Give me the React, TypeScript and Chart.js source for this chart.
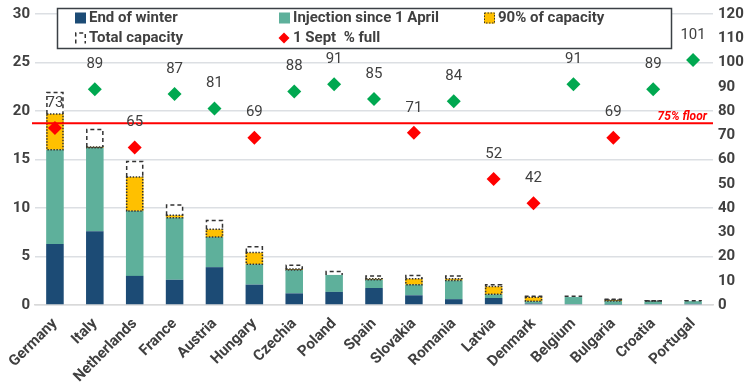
import { useEffect, useRef } from "react";
import { Chart, registerables } from "chart.js";

Chart.register(...registerables);

const categories = [
  "Germany", "Italy", "Netherlands", "France", "Austria", "Hungary", "Czechia", "Poland",
  "Spain", "Slovakia", "Romania", "Latvia", "Denmark", "Belgium", "Bulgaria", "Croatia", "Portugal",
];
// bcm segments of each stacked bar
const endOfWinter = [6.3, 7.6, 3.0, 2.6, 3.9, 2.1, 1.2, 1.35, 1.75, 1.0, 0.6, 0.72, 0.15, 0.1, 0.05, 0.1, 0.12];
const injectionSinceApril = [9.7, 8.6, 6.7, 6.4, 3.1, 2.1, 2.4, 1.75, 0.85, 1.1, 1.92, 0.38, 0.23, 0.72, 0.35, 0.3, 0.28];
const upTo90Pct = [3.7, 0.1, 3.5, 0.25, 0.8, 1.2, 0.1, 0, 0.1, 0.6, 0.18, 0.8, 0.43, 0, 0.12, 0.01, 0];
const upToTotalCapacity = [2.2, 1.8, 1.6, 1.05, 0.9, 0.6, 0.4, 0.35, 0.3, 0.35, 0.3, 0.2, 0.09, 0.08, 0.06, 0.04, 0.03];
const sept1PctFull = [73, 89, 65, 87, 81, 69, 88, 91, 85, 71, 84, 52, 42, 91, 69, 89, 101];
const floorPct = 75;
const floorLabel = "75% floor";
const legendLabels = ["End of winter", "Injection since 1 April", "90% of capacity", "Total capacity", "1 Sept  % full"];

const C_BLUE = "#1c4b75";
const C_TEAL = "#5eb09b";
const C_YELLOW = "#ffc000";
const C_RED = "#ff0000";
const C_GREEN = "#00a850";
const C_TEXT = "#404040";
const FONT = "Roboto";

function drawDiamond(ctx: CanvasRenderingContext2D, x: number, y: number, r: number, color: string) {
  ctx.save();
  ctx.fillStyle = color;
  ctx.beginPath();
  ctx.moveTo(x, y - r);
  ctx.lineTo(x + r, y);
  ctx.lineTo(x, y + r);
  ctx.lineTo(x - r, y);
  ctx.closePath();
  ctx.fill();
  ctx.restore();
}

const overlayPlugin = {
  id: "overlay",
  afterDatasetDraw(chart: any, args: any) {
    if (args.index !== 0) return;
    const ctx: CanvasRenderingContext2D = chart.ctx;
    // dotted border for 90% segment
    const m2 = chart.getDatasetMeta(2);
    ctx.save();
    ctx.strokeStyle = "#333";
    ctx.lineWidth = 1.5;
    ctx.setLineDash([1.5, 1.5]);
    m2.data.forEach((el: any, i: number) => {
      if (!upTo90Pct[i]) return;
      const l = el.x - el.width / 2, r = el.x + el.width / 2;
      ctx.strokeRect(l + 0.75, el.y, r - l - 1.5, el.base - el.y);
    });
    ctx.restore();
    // dashed border for total capacity segment
    const m3 = chart.getDatasetMeta(3);
    ctx.save();
    ctx.strokeStyle = "#333";
    ctx.lineWidth = 1.5;
    ctx.setLineDash([4, 3]);
    m3.data.forEach((el: any, i: number) => {
      if (!upToTotalCapacity[i]) return;
      const l = el.x - el.width / 2 + 0.75, r = el.x + el.width / 2 - 0.75;
      ctx.beginPath();
      ctx.moveTo(l, el.base);
      ctx.lineTo(l, el.y);
      ctx.lineTo(r, el.y);
      ctx.lineTo(r, el.base);
      ctx.stroke();
    });
    ctx.restore();
    // 75% floor line
    const y = chart.scales.y1.getPixelForValue(floorPct);
    const { left, right } = chart.chartArea;
    ctx.save();
    ctx.strokeStyle = C_RED;
    ctx.lineWidth = 2;
    ctx.beginPath();
    ctx.moveTo(left - 3, y);
    ctx.lineTo(right, y);
    ctx.stroke();
    ctx.fillStyle = C_RED;
    ctx.font = `italic bold 12px ${FONT}`;
    ctx.textAlign = "right";
    ctx.textBaseline = "alphabetic";
    ctx.fillText(floorLabel, right - 6, y - 3);
    ctx.restore();
  },
  afterDatasetsDraw(chart: any) {
    const ctx: CanvasRenderingContext2D = chart.ctx;
    const m4 = chart.getDatasetMeta(4);
    ctx.save();
    ctx.fillStyle = C_TEXT;
    ctx.font = `15px ${FONT}`;
    ctx.textAlign = "center";
    ctx.textBaseline = "middle";
    m4.data.forEach((pt: any, i: number) => {
      ctx.fillText(String(sept1PctFull[i]), pt.x, pt.y - 25);
    });
    ctx.restore();
  },
  afterDraw(chart: any) {
    const ctx: CanvasRenderingContext2D = chart.ctx;
    ctx.save();
    ctx.fillStyle = "#fff";
    ctx.fillRect(57, 8, 615, 41);
    ctx.strokeStyle = "#3b4045";
    ctx.lineWidth = 1.5;
    ctx.strokeRect(57.5, 8.5, 614, 40);
    const r1 = 18, r2 = 38;
    const cols = [75, 279, 484];
    ctx.font = `bold 15px ${FONT}`;
    ctx.fillStyle = C_TEXT;
    ctx.textBaseline = "middle";
    ctx.textAlign = "left";
    // row 1
    ctx.fillStyle = C_BLUE;
    ctx.fillRect(cols[0], r1 - 5.5, 11, 11);
    ctx.fillStyle = C_TEAL;
    ctx.fillRect(cols[1], r1 - 5.5, 11, 11);
    ctx.fillStyle = C_YELLOW;
    ctx.fillRect(cols[2], r1 - 5.5, 11, 11);
    ctx.strokeStyle = "#333";
    ctx.lineWidth = 1;
    ctx.setLineDash([1.5, 1.5]);
    ctx.strokeRect(cols[2] + 0.5, r1 - 5, 10, 10);
    ctx.setLineDash([4, 3]);
    ctx.lineWidth = 1.5;
    ctx.beginPath();
    ctx.moveTo(cols[0] + 0.75, r2 + 5.5);
    ctx.lineTo(cols[0] + 0.75, r2 - 5);
    ctx.lineTo(cols[0] + 10.25, r2 - 5);
    ctx.lineTo(cols[0] + 10.25, r2 + 5.5);
    ctx.stroke();
    ctx.setLineDash([]);
    drawDiamond(ctx, cols[1] + 5, r2, 5.5, C_RED);
    ctx.fillStyle = C_TEXT;
    ctx.fillText(legendLabels[0], cols[0] + 14, r1);
    ctx.fillText(legendLabels[1], cols[1] + 14, r1);
    ctx.fillText(legendLabels[2], cols[2] + 14, r1);
    ctx.fillText(legendLabels[3], cols[0] + 14, r2);
    ctx.fillText(legendLabels[4], cols[1] + 14, r2);
    ctx.restore();
  },
};

export default function App() {
  const ref = useRef<HTMLCanvasElement | null>(null);
  useEffect(() => {
    document.body.style.margin = "0";
    const canvas = ref.current!;
    const bar = (label: string, data: number[], color: string) => ({
      type: "bar" as const,
      label,
      data,
      backgroundColor: color,
      borderWidth: 0,
      order: 1,
      yAxisID: "y",
      stack: "s",
      categoryPercentage: 1,
      barPercentage: 0.44,
    });
    const chart = new Chart(canvas, {
      type: "bar",
      data: {
        labels: categories,
        datasets: [
          bar(legendLabels[0], endOfWinter, C_BLUE),
          bar(legendLabels[1], injectionSinceApril, C_TEAL),
          bar(legendLabels[2], upTo90Pct, C_YELLOW),
          bar(legendLabels[3], upToTotalCapacity, "#ffffff"),
          {
            type: "line" as const,
            label: legendLabels[4],
            data: sept1PctFull,
            yAxisID: "y1",
            showLine: false,
            order: 0,
            pointStyle: "rectRot",
            pointRadius: 7,
            pointHoverRadius: 7,
            pointBorderWidth: 0,
            pointBackgroundColor: sept1PctFull.map((v) => (v >= floorPct ? C_GREEN : C_RED)),
            pointBorderColor: sept1PctFull.map((v) => (v >= floorPct ? C_GREEN : C_RED)),
          } as any,
        ],
      },
      options: {
        responsive: false,
        animation: false,
        layout: { padding: { top: 1, left: 0, right: 0, bottom: 0 } },
        plugins: { legend: { display: false }, tooltip: { enabled: false } },
        scales: {
          x: {
            stacked: true,
            grid: { display: false },
            border: { display: true, color: "#d9d9d9", width: 1.5 },
            ticks: {
              autoSkip: false,
              maxRotation: 45,
              minRotation: 45,
              color: C_TEXT,
              font: { family: FONT, size: 15, weight: "bold" },
              padding: 2,
            },
            afterFit(scale: any) {
              scale.height = 87;
            },
          },
          y: {
            stacked: true,
            position: "left",
            min: 0,
            max: 30,
            ticks: {
              stepSize: 5,
              color: C_TEXT,
              font: { family: FONT, size: 15, weight: "bold" },
              padding: 5,
            },
            grid: { color: "#dcdfe3", lineWidth: 1.5, drawTicks: false },
            border: { display: false },
            afterFit(scale: any) {
              scale.width = 35;
            },
          },
          y1: {
            position: "right",
            min: 0,
            max: 120,
            ticks: {
              stepSize: 10,
              color: C_TEXT,
              font: { family: FONT, size: 15, weight: "bold" },
              padding: 5,
            },
            grid: { display: false, drawTicks: false },
            border: { display: false },
            afterFit(scale: any) {
              scale.width = 42;
            },
          },
        },
      },
      plugins: [overlayPlugin],
    });
    return () => chart.destroy();
  }, []);
  return (
    <div style={{ width: 755, height: 392 }}>
      <canvas ref={ref} width={755} height={392} />
    </div>
  );
}
